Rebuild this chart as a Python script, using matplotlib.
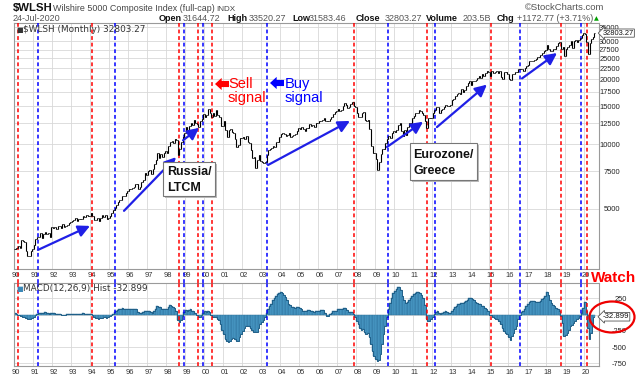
import numpy as np
import matplotlib
matplotlib.use('Agg')
import matplotlib.pyplot as plt
import matplotlib.transforms as mtransforms
from matplotlib.patches import Ellipse, Rectangle
from matplotlib.ticker import FixedLocator, NullLocator

plt.rcParams['font.family'] = ['Liberation Sans', 'DejaVu Sans']

W, H = 640, 382

# monthly closes of $WLSH, Jan 1990 .. Jul 2020
closes = [
    3260, 3290, 3370, 3280, 3570, 3540, 3520, 3200, 3030, 3010, 3190, 3270,        # 1990
    3410, 3630, 3710, 3710, 3860, 3670, 3840, 3910, 3840, 3880, 3710, 4130,        # 1991
    4090, 4130, 4040, 4150, 4150, 4080, 4240, 4140, 4180, 4190, 4310, 4360,        # 1992
    4390, 4430, 4520, 4400, 4500, 4510, 4480, 4640, 4590, 4680, 4620, 4660,        # 1993
    4770, 4620, 4420, 4460, 4520, 4400, 4530, 4700, 4580, 4670, 4490, 4540,        # 1994
    4620, 4790, 4920, 5060, 5240, 5360, 5520, 5520, 5740, 5720, 5950, 6060,        # 1995
    6180, 6220, 6280, 6350, 6500, 6520, 6220, 6330, 6670, 6850, 7350, 7200,        # 1996
    7510, 7550, 7230, 7650, 8100, 8450, 9110, 8590, 9040, 8740, 9120, 9300,        # 1997
    9110, 9760, 10250, 10340, 10150, 10540, 10420, 8900, 9460, 10220, 10830, 11320,  # 1998
    12030, 11640, 12090, 12550, 12240, 12910, 12490, 12410, 12060, 12800, 13060, 13810,  # 1999
    13400, 13700, 14600, 13900, 13400, 13900, 13550, 14400, 13600, 13400, 12100, 12180,  # 2000
    12770, 11590, 10850, 11680, 11740, 11440, 11320, 10600, 9730, 9910, 10650, 10730,  # 2001
    10740, 10520, 10900, 10230, 10140, 9410, 8660, 8700, 7740, 8420, 8890, 8360,    # 2002
    8300, 8160, 8230, 8890, 9350, 9460, 9600, 9780, 9660, 10190, 10260, 10790,      # 2003
    11140, 11280, 11090, 10900, 11040, 11240, 10850, 10870, 10980, 11130, 11560, 11940,  # 2004
    11810, 12040, 11810, 11570, 11910, 11910, 12340, 12200, 12290, 12070, 12490, 12480,  # 2005
    12860, 12870, 13010, 13180, 12760, 12760, 12830, 13110, 13430, 13850, 14080, 14250,  # 2006
    14520, 14210, 14350, 14970, 15460, 15180, 14700, 14890, 15420, 15640, 14960, 14830,  # 2007
    13930, 13440, 13360, 14000, 14140, 12930, 12800, 12960, 11780, 9790, 9050, 9120,  # 2008
    8510, 7570, 8220, 8990, 9470, 9470, 10170, 10520, 10890, 10670, 11290, 11480,   # 2009
    11330, 11650, 12330, 12520, 11490, 10880, 11630, 11070, 12040, 12480, 12460, 13270,  # 2010
    13570, 14000, 13990, 14390, 14190, 13940, 13630, 12860, 11930, 13220, 13160, 13270,  # 2011
    13910, 14480, 14920, 14820, 13890, 14440, 14620, 14910, 15270, 14970, 15010, 15120,  # 2012
    15950, 16130, 16710, 17020, 17370, 17100, 17960, 17390, 17910, 18710, 19230, 19680,  # 2013
    18810, 19610, 19750, 19880, 20300, 20680, 20370, 21130, 20810, 21290, 21820, 21720,  # 2014
    20750, 21890, 21510, 21690, 21910, 21460, 21880, 20510, 19970, 21620, 21630, 21260,  # 2015
    19980, 19900, 21220, 21270, 21600, 21620, 22390, 22360, 22330, 21900, 22650, 23060,  # 2016
    23360, 24230, 24220, 24440, 24720, 24840, 25320, 25340, 25820, 26390, 27140, 27410,  # 2017
    28800, 27680, 26940, 27010, 27590, 27720, 28720, 29600, 29720, 27660, 28150, 25570,  # 2018
    27580, 28400, 28910, 30050, 28070, 30010, 30400, 29850, 30370, 30990, 32040, 32960,  # 2019
    32580, 29840, 26110, 29410, 30740, 31470, 32803,                                  # 2020
]

# monthly MACD(12,26,9) histogram
macd_hist = [
    30, 15, 0, -10, -20, -30, -40, -55, -70, -75, -70, -50,          # 1990
    -30, -10, 10, 25, 30, 25, 30, 35, 30, 25, 15, 25,                # 1991
    30, 20, 15, 10, 10, 5, 0, -5, 0, 5, 10, 15,                      # 1992
    10, 15, 10, 10, 5, 10, 15, 20, 10, 15, 10, 15,                   # 1993
    10, -5, -30, -45, -55, -60, -55, -45, -40, -40, -45, -35,        # 1994
    -20, -5, 10, 35, 55, 70, 85, 90, 95, 90, 90, 90,                 # 1995
    90, 90, 90, 85, 90, 85, 40, 20, 25, 40, 55, 55,                  # 1996
    55, 50, 35, 30, 60, 90, 130, 110, 120, 90, 80, 90,               # 1997
    90, 120, 145, 140, 110, 100, 60, -80, -115, -90, -20, 40,        # 1998
    70, 60, 75, 80, 60, 55, 30, -10, -30, -30, -10, 30,              # 1999
    50, 40, 60, 40, -10, -30, -40, -40, -60, -90, -150, -230,        # 2000
    -300, -380, -410, -425, -400, -380, -360, -380, -400, -400, -350, -300,  # 2001
    -250, -200, -175, -170, -180, -200, -240, -260, -270, -260, -200, -150,  # 2002
    -120, -80, -30, 30, 90, 125, 170, 220, 260, 290, 310, 330,       # 2003
    340, 330, 300, 270, 220, 170, 150, 120, 110, 100, 110, 110,      # 2004
    100, 80, 60, 50, 60, 75, 70, 55, 50, 45, 50, 55,                 # 2005
    60, 70, 75, 70, 20, -15, -15, 10, 30, 50, 55, 60,                # 2006
    80, 90, 80, 90, 100, 95, 70, 45, 40, 35, 10, -30,                # 2007
    -100, -140, -200, -230, -220, -260, -300, -290, -350, -450, -560, -640,  # 2008
    -680, -720, -700, -600, -450, -300, -175, -30, 80, 180, 250, 330,  # 2009
    370, 400, 420, 430, 380, 280, 225, 180, 190, 220, 250, 280,      # 2010
    310, 330, 340, 345, 330, 300, 250, 150, -60, -100, -100, -60,    # 2011
    -30, 10, 45, 55, 20, 10, 20, 40, 55, 45, 30, 30,                 # 2012
    60, 90, 120, 140, 170, 160, 180, 180, 190, 210, 230, 250,        # 2013
    260, 240, 220, 200, 180, 170, 160, 140, 130, 100, 90, 50,        # 2014
    0, -10, -30, -50, -60, -75, -100, -150, -200, -250, -280, -300,  # 2015
    -340, -390, -330, -280, -220, -170, -60, -10, 40, 50, 80, 130,   # 2016
    170, 200, 210, 210, 205, 200, 200, 200, 215, 240, 260, 290,      # 2017
    340, 300, 225, 180, 150, 125, 100, 90, 50, -20, -125, -330,      # 2018
    -310, -280, -230, -175, -160, -125, -100, -70, -50, -20, 30, 100,  # 2019
    200, 50, -200, -380, -290, -150, -33,                            # 2020
]

sell_signals = [1990.23, 1994.12, 1998.68, 1999.67, 2000.41, 2007.89, 2011.74, 2015.10, 2018.79, 2020.16]
buy_signals = [1991.25, 1995.32, 1998.95, 1999.95, 2003.32, 2009.68, 2012.16, 2016.63, 2019.84]

# trend arrows: (start year, start price, end year, end price)
trend_arrows = [
    (1991.26, 3225, 1994.00, 4170),
    (1995.79, 4900, 1998.53, 8700),
    (1998.90, 10420, 1999.74, 11900),
    (2003.37, 8000, 2007.68, 12820),
    (2009.63, 9700, 2011.53, 12700),
    (2012.26, 12000, 2014.89, 18900),
    (2016.74, 20200, 2018.58, 26500),
]

years = list(range(1990, 2021))
year_labels = ['%02d' % (y % 100) for y in years]
price_ticks = [5000, 7500, 10000, 12500, 15000, 17500, 20000, 22500, 25000, 27500, 30000, 35000]
macd_ticks = [250, -250, -500, -750]

last_close = 32803.27
last_hist = -32.899

t = 1990 + (np.arange(len(closes)) + 0.5) / 12.0
c = np.array(closes, dtype=float)
opens = np.r_[c[0], c[:-1]]

fig = plt.figure(figsize=(6.4, 3.82), dpi=100)
fig.patch.set_facecolor('white')

left, right = 13.5, 599
ax = fig.add_axes([left / W, 1 - 269 / H, (right - left) / W, (269 - 23) / H])
ax2 = fig.add_axes([left / W, 1 - 366 / H, (right - left) / W, (366 - 283) / H])

grid_c = '#d8d8d8'
spine_c = '#9a9a9a'
for a in (ax, ax2):
    a.set_xlim(1989.974, 2020.79)
    a.xaxis.set_major_locator(FixedLocator([y + 0.1 for y in years]))
    a.xaxis.set_minor_locator(FixedLocator(years))
    a.set_xticklabels(year_labels)
    a.tick_params(axis='x', which='both', length=0, pad=2, labelsize=5.4, labelcolor='#333333')
    a.grid(True, axis='x', which='minor', color=grid_c, lw=0.6)
    a.grid(False, axis='x', which='major')
    a.grid(True, axis='y', which='major', color=grid_c, lw=0.6)
    a.set_axisbelow(True)
    for s in a.spines.values():
        s.set_color(spine_c)
        s.set_linewidth(0.8)
    a.yaxis.tick_right()

# ---- price panel ----
ax.set_yscale('log')
ax.set_ylim(2630, 36540)
ax.yaxis.set_major_locator(FixedLocator(price_ticks))
ax.yaxis.set_minor_locator(NullLocator())
ax.set_yticklabels([str(v) for v in price_ticks])
ax.tick_params(axis='y', length=0, pad=15, labelsize=5.4, labelcolor='#222222')
for lab in ax.get_yticklabels():
    lab.set_horizontalalignment('right')

ax.vlines(t, np.minimum(opens, c), np.maximum(opens, c), color='black', lw=0.8, zorder=4)
ax.hlines(c, t, t + 0.05, color='black', lw=0.6, zorder=4)
ax.hlines(opens, t - 0.05, t, color='black', lw=0.6, zorder=4)

gap = 14 / 246.0
for x in sell_signals:
    ax.axvline(x, ymin=-gap, ymax=1, color='#ff0000', ls=(0, (2.5, 1.8)), lw=1.1, clip_on=False, zorder=3)
    ax2.axvline(x, color='#ff0000', ls=(0, (2.5, 1.8)), lw=1.1, zorder=3)
for x in buy_signals:
    ax.axvline(x, ymin=-gap, ymax=1, color='#0000ff', ls=(0, (2.5, 1.8)), lw=1.1, clip_on=False, zorder=3)
    ax2.axvline(x, color='#0000ff', ls=(0, (2.5, 1.8)), lw=1.1, zorder=3)

for x0, y0, x1, y1 in trend_arrows:
    ax.annotate('', xy=(x1, y1), xytext=(x0, y0),
                arrowprops=dict(arrowstyle='-|>,head_length=0.7,head_width=0.35',
                                color='#1f1fe6', lw=1.6, mutation_scale=10,
                                shrinkA=0, shrinkB=0), zorder=6)

trans = mtransforms.blended_transform_factory(ax.transAxes, ax.transData)
ax.text(1.006, last_close, '%.2f' % last_close, transform=trans, ha='left', va='center',
        size=5.4, color='#111111', zorder=7,
        bbox=dict(boxstyle='larrow,pad=0.08', fc='white', ec='#555555', lw=0.6))

# ---- MACD panel ----
m = np.array(macd_hist, dtype=float)
ax2.set_ylim(-790, 486)
ax2.yaxis.set_major_locator(FixedLocator(macd_ticks + [0]))
ax2.set_yticklabels([str(v) for v in macd_ticks] + [''])
ax2.tick_params(axis='y', length=0, pad=20, labelsize=5.4, labelcolor='#222222')
for lab in ax2.get_yticklabels():
    lab.set_horizontalalignment('right')
ax2.bar(t, m, width=1 / 12.0, color='#4c9cc8', edgecolor='#2a6e98', lw=0.3, zorder=2)
ax2.plot(t, m, drawstyle='steps-mid', color='#1f5f88', lw=0.7, zorder=2.5)

trans2 = mtransforms.blended_transform_factory(ax2.transAxes, ax2.transData)
ax2.text(1.006, last_hist, '%.3f' % last_hist, transform=trans2, ha='left', va='center',
         size=5.6, color='#111111', zorder=7,
         bbox=dict(boxstyle='larrow,pad=0.1', fc='white', ec='#555555', lw=0.6))

# ---- header texts ----
def ftext(x, y, s, **kw):
    return fig.text(x / W, 1 - y / H, s, **kw)

ftext(13, 11, '$WLSH', weight='bold', size=8.2, color='#111111', va='baseline')
ftext(53, 11, 'Wilshire 5000 Composite Index (full-cap)', size=6.4, color='#444444', va='baseline')
ftext(216, 11, 'INDX', size=5.8, color='#444444', va='baseline')
ftext(525, 10, '\u00a9StockCharts.com', size=6.8, color='#555555', va='baseline')
ftext(13, 21, '24-Jul-2020', size=6.5, color='#555555', va='baseline')

header_items = [
    (159, 'Open', True), (183, '31644.72', False),
    (227, 'High', True), (249, '33520.27', False),
    (292, 'Low', True), (309, '31583.46', False),
    (356, 'Close', True), (385, '32803.27', False),
    (426, 'Volume', True), (463, '203.5B', False),
    (497, 'Chg', True), (517, '+1172.77 (+3.71%)', False),
]
for x, s, bold in header_items:
    ftext(x, 21, s, size=6.5, va='baseline',
          weight='bold' if bold else 'normal',
          color='#111111' if bold else '#555555')
ftext(594, 20, '\u25b2', size=4.5, color='#00a000', va='baseline', family='DejaVu Sans')

# panel legends
ftext(16, 32, '\u25a0', size=5, color='#333333', va='baseline', family='DejaVu Sans')
ftext(23, 32, '$WLSH (Monthly) 32803.27', size=6.4, color='#333333', va='baseline', family='DejaVu Sans')
ftext(16, 291, '\u25a0', size=5, color='#3a88b8', va='baseline', family='DejaVu Sans')
ftext(23, 291, 'MACD(12,26,9) Hist -32.899', size=6.4, color='#333333', va='baseline', family='DejaVu Sans')

# ---- annotations ----
ax.annotate('', xy=(215, H - 84), xytext=(229, H - 84), xycoords='figure pixels',
            arrowprops=dict(arrowstyle='simple,head_length=0.6,head_width=1.1,tail_width=0.55',
                            fc='#ff0000', ec='none', mutation_scale=8, shrinkA=0, shrinkB=0),
            annotation_clip=False)
ax.annotate('', xy=(270, H - 83), xytext=(284, H - 83), xycoords='figure pixels',
            arrowprops=dict(arrowstyle='simple,head_length=0.6,head_width=1.1,tail_width=0.55',
                            fc='#0000ff', ec='none', mutation_scale=8, shrinkA=0, shrinkB=0),
            annotation_clip=False)
ftext(228, 88, 'Sell', size=10.5, color='#ff0000', va='baseline')
ftext(228, 102, 'signal', size=10.5, color='#ff0000', va='baseline')
ftext(285, 88, 'Buy', size=10.5, color='#0000ff', va='baseline')
ftext(285, 102, 'signal', size=10.5, color='#0000ff', va='baseline')


def note_box(x0, y0, x1, y1, lines, tx, baselines):
    fig.add_artist(Rectangle((x0 / W + 2 / W, 1 - y1 / H - 2 / H), (x1 - x0) / W, (y1 - y0) / H,
                             transform=fig.transFigure, fc='#bbbbbb', ec='none', zorder=8))
    fig.add_artist(Rectangle((x0 / W, 1 - y1 / H), (x1 - x0) / W, (y1 - y0) / H,
                             transform=fig.transFigure, fc='white', ec='#777777', lw=0.8, zorder=9))
    for s, b in zip(lines, baselines):
        ftext(tx, b, s, size=9, weight='bold', color='#111111', va='baseline', zorder=10)


note_box(163, 162, 215, 196, ['Russia/', 'LTCM'], 167, [175, 191])
note_box(410, 143, 477, 180, ['Eurozone/', 'Greece'], 413, [158, 174])

ftext(614, 278, 'Watch', size=11, weight='bold', color='#ff0000', ha='center', va='center')
fig.add_artist(Ellipse((612 / W, 1 - 317 / H), 45 / W, 31 / H, transform=fig.transFigure,
                       fill=False, ec='#ee0000', lw=1.6, zorder=11))

fig.savefig('out.png', dpi=100)
